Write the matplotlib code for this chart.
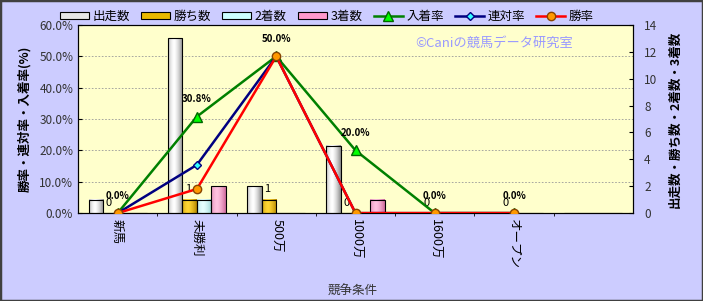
import matplotlib
matplotlib.use('Agg')
import matplotlib.pyplot as plt
import numpy as np
from matplotlib.patches import Rectangle
from matplotlib.colors import LinearSegmentedColormap
from matplotlib.ticker import FuncFormatter

plt.rcParams['font.family'] = ['Noto Sans CJK JP', 'DejaVu Sans']

# データ
categories = ['新馬', '未勝利', '500万', '1000万', '1600万', 'オープン', '']
starts = [1, 13, 2, 5, 0, 0, 0]        # 出走数
wins = [0, 1, 1, 0, 0, 0, 0]           # 勝ち数
seconds = [0, 1, 0, 0, 0, 0, 0]        # 2着数
thirds = [0, 2, 0, 1, 0, 0, 0]         # 3着数
win_rate = [0.0, 7.7, 50.0, 0.0, 0.0, 0.0]     # 勝率
rentai_rate = [0.0, 15.4, 50.0, 0.0, 0.0, 0.0]  # 連対率
place_rate = [0.0, 30.8, 50.0, 20.0, 0.0, 0.0]  # 入着率

fig = plt.figure(figsize=(7.03, 3.01), dpi=100)
fig.patch.set_facecolor('#CCCCFF')
fig.patches.append(Rectangle((0, 0), 1, 1, transform=fig.transFigure, fill=False,
                             edgecolor='#404040', linewidth=2.5))

ax = fig.add_axes([0.111, 0.292, 0.7894, 0.625])
ax2 = ax.twinx()
ax.set_zorder(2)
ax2.set_zorder(1)
ax.patch.set_visible(False)
ax2.patch.set_visible(True)
ax2.patch.set_facecolor('#FFFFCC')

x = np.arange(len(categories))
w = 0.183
bar_specs = [
    (starts, '#E6E6E6', '#8C8C8C', '#FFFFFF', '出走数'),
    (wins, '#E8B800', '#B38600', '#FFD633', '勝ち数'),
    (seconds, '#CCFFFF', '#99D6D6', '#E6FFFF', '2着数'),
    (thirds, '#FF99CC', '#D06A9C', '#FFC2E0', '3着数'),
]
# 円柱風のグラデーション
t = np.linspace(0, 1, 40)
shade = 1 - np.clip(np.abs(t - 0.4) / 0.6, 0, 1) ** 1.5
grad = shade[np.newaxis, :]

bar_handles = []
for i, (vals, col, dark, light, lab) in enumerate(bar_specs):
    b = ax2.bar(x + (i - 1.5) * w, vals, width=w, color=col, edgecolor='black',
                linewidth=0.8, label=lab, zorder=4)
    cmap = LinearSegmentedColormap.from_list(lab, [dark, light])
    for r in b:
        if r.get_height() > 0:
            r.set_facecolor('none')
            ax2.imshow(grad, extent=[r.get_x(), r.get_x() + r.get_width(), r.get_y(),
                                     r.get_y() + r.get_height()],
                       aspect='auto', cmap=cmap, vmin=0, vmax=1, zorder=3, interpolation='bilinear')
    bar_handles.append(Rectangle((0, 0), 1, 1, facecolor=col, edgecolor='black', linewidth=0.8))

# 勝ち数ラベル
for xi, v in zip(x[:6], wins[:6]):
    ax2.annotate(str(v), (xi - 0.5 * w, v), xytext=(-1, 4), textcoords='offset points',
                 ha='center', va='bottom', fontsize=8, zorder=5)

ax2.set_xlim(-0.5, 6.5)
ax2.set_ylim(0, 14)
ax2.set_yticks(range(0, 15, 2))
ax2.set_yticks(np.arange(1, 6) * 14 / 6, minor=True)
ax2.set_xticks(np.arange(0.5, 6.5, 1), minor=True)
ax2.grid(which='minor', axis='both', color='#999999', linestyle=(0, (2, 2)), linewidth=0.6)
ax2.tick_params(axis='y', which='major', direction='in', length=3, labelsize=8.5,
                labelcolor='#333333', pad=8)
ax2.tick_params(axis='y', which='minor', length=0)
ax2.tick_params(axis='x', which='minor', length=0)
ax2.set_ylabel('出走数・勝ち数・2着数・3着数', fontsize=9, fontweight='bold', labelpad=8)
ax2.set_axisbelow(True)

# 折れ線
lx = x[:6]
l1, = ax.plot(lx, place_rate, color='#008000', linewidth=1.8, marker='^', markersize=7,
              markerfacecolor='#00FF00', markeredgecolor='#006600', label='入着率', zorder=3)
l2, = ax.plot(lx, rentai_rate, color='#000080', linewidth=1.8, marker='D', markersize=4.5,
              markerfacecolor='#33FFFF', markeredgecolor='#000080', label='連対率', zorder=4)
l3, = ax.plot(lx, win_rate, color='#FF0000', linewidth=1.8, marker='o', markersize=6,
              markerfacecolor='#FF9900', markeredgecolor='#884400', label='勝率', zorder=5)

for xi, v in zip(lx, place_rate):
    ax.annotate(f'{v:.1f}%', (xi, v), xytext=(0, 9), textcoords='offset points',
                ha='center', va='bottom', fontsize=7, fontweight='bold', zorder=6)

ax.set_xlim(-0.5, 6.5)
ax.set_ylim(0, 60)
ax.set_yticks(range(0, 61, 10))
ax.yaxis.set_major_formatter(FuncFormatter(lambda v, p: f'{v:.1f}%'))
ax.set_xticks(x)
ax.set_xticklabels(categories, rotation=-90, fontsize=9)
ax.tick_params(axis='x', length=0, pad=4)
ax.tick_params(axis='y', direction='in', length=3, labelsize=8.5, labelcolor='#333333')
ax.set_ylabel('勝率・連対率・入着率(%)', fontsize=9, fontweight='bold', labelpad=6)
ax.set_xlabel('競争条件', fontsize=9, color='#333333')
ax.xaxis.set_label_coords(0.494, -0.383)

for sp in list(ax.spines.values()) + list(ax2.spines.values()):
    sp.set_color('black')

ax.text(0.75, 0.905, '©Caniの競馬データ研究室', transform=ax.transAxes, ha='center',
        va='center', fontsize=9.5, color='#9999FF', zorder=1)

handles = bar_handles + [l1, l2, l3]
labels = ['出走数', '勝ち数', '2着数', '3着数', '入着率', '連対率', '勝率']
fig.legend(handles, labels, loc='center', bbox_to_anchor=(0.465, 0.945), ncol=7, frameon=False,
           fontsize=9, handlelength=2.3, handleheight=0.5, columnspacing=0.9, handletextpad=0.3)

fig.savefig('out.png', dpi=100, facecolor=fig.get_facecolor())
